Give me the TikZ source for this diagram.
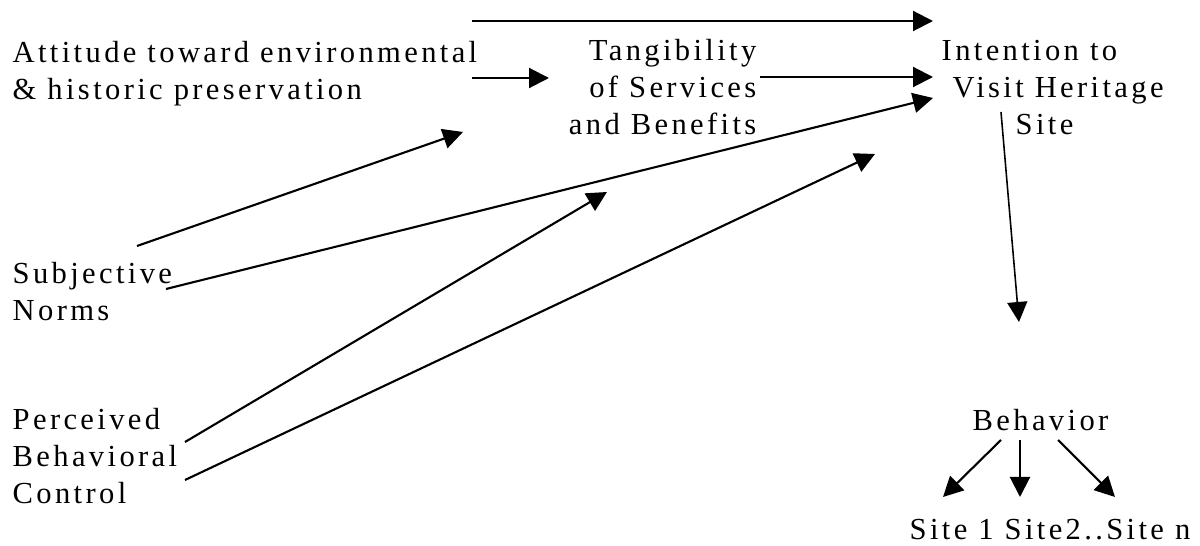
\documentclass[tikz,border=0pt]{standalone}
\usepackage{fontspec}
\setmainfont{Liberation Serif}[LetterSpace=11]
\usetikzlibrary{arrows.meta}

\begin{document}
\begin{tikzpicture}[lbl/.style={inner sep=0pt,font=\fontsize{8.7}{10.6}\selectfont},
                    arr/.style={-{Triangle[length=2mm,width=2mm]},line width=0.6pt}]
            \useasboundingbox (0,0) rectangle (12,-5.46);

            \node[lbl,align=left,anchor=base west]  (att) at (0.12,-1.00) {Attitude toward environmental\\\& historic preservation};
            \node[lbl,align=right,anchor=base east] (tan) at (7.57,-1.35) {Tangibility\\of Services\\and Benefits};
            \node[lbl,align=left,anchor=base west]  (int) at (9.41,-1.35) {Intention to\\\hspace{0.11cm}Visit Heritage\\\hspace{0.74cm}Site};
            \node[lbl,align=left,anchor=base west]  (sub) at (0.12,-3.21) {Subjective\\Norms};
            \node[lbl,align=left,anchor=base west]  (pbc) at (0.12,-5.04) {Perceived\\Behavioral\\Control};
            \node[lbl,anchor=base west] (beh)  at (9.72,-4.31) {Behavior};
            \node[lbl,anchor=base west] (site) at (9.09,-5.40) {Site 1 Site2..Site n};

            \coordinate (att-top) at (4.72,-0.21);  \coordinate (int-top) at (9.33,-0.21);
            \coordinate (att-out) at (4.72,-0.78);  \coordinate (tan-in)  at (5.49,-0.78);
            \coordinate (tan-out) at (7.60,-0.77);  \coordinate (int-in)  at (9.33,-0.77);
            \coordinate (sub-a)   at (1.37,-2.46);  \coordinate (tan-in2) at (4.63,-1.32);
            \coordinate (sub-b)   at (1.66,-2.89);  \coordinate (int-in2) at (9.33,-0.98);
            \coordinate (pbc-a)   at (1.85,-4.42);  \coordinate (tan-in3) at (6.07,-1.92);
            \coordinate (pbc-b)   at (1.85,-4.80);  \coordinate (int-in3) at (8.75,-1.54);
            \coordinate (int-out) at (10.01,-1.12); \coordinate (beh-in)  at (10.19,-3.22);
            \coordinate (beh-l)   at (10.01,-4.40); \coordinate (site-l)  at (9.43,-4.97);
            \coordinate (beh-m)   at (10.20,-4.40); \coordinate (site-m)  at (10.20,-4.97);
            \coordinate (beh-r)   at (10.58,-4.40); \coordinate (site-r)  at (11.15,-4.97);

            \begin{scope}[arr]
                \draw (att-top) -- (int-top);
                \draw (att-out) -- (tan-in);
                \draw (tan-out) -- (int-in);
                \draw (sub-a) -- (tan-in2);
                \draw (sub-b) -- (int-in2);
                \draw (pbc-a) -- (tan-in3);
                \draw (pbc-b) -- (int-in3);
                \draw[line width=0.45pt] (int-out) -- (beh-in);
                \draw (beh-l) -- (site-l);
                \draw (beh-m) -- (site-m);
                \draw (beh-r) -- (site-r);
            \end{scope}
        \end{tikzpicture}
\end{document}
